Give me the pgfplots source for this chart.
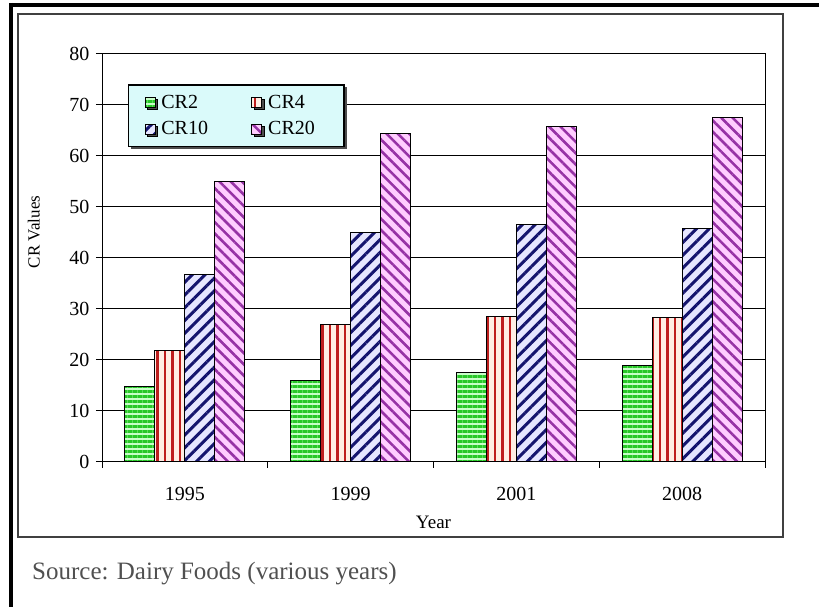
\documentclass[border=0pt]{standalone}
\usepackage{fontspec}
\setmainfont{Liberation Serif}
\usepackage{pgfplots}
\pgfplotsset{compat=1.18}
\usetikzlibrary{patterns.meta,shadows}
\definecolor{gS}{RGB}{40,200,40}
\definecolor{gB}{RGB}{200,255,200}
\definecolor{rS}{RGB}{190,30,30}
\definecolor{rB}{RGB}{255,238,228}
\definecolor{bS}{RGB}{20,20,110}
\definecolor{bB}{RGB}{230,230,255}
\definecolor{mS}{RGB}{150,50,165}
\definecolor{mB}{RGB}{255,205,255}
\definecolor{legbg}{RGB}{218,250,250}
\definecolor{srcgray}{RGB}{80,80,80}
\begin{document}
\begin{tikzpicture}
\path[use as bounding box] (0pt,0pt) rectangle (819pt,607pt);
% outer borders
\draw[black, line width=4pt] (9pt,602pt) -- (819pt,602pt);
\draw[black, line width=4pt] (11pt,604pt) -- (11pt,0pt);
\draw[black!75, line width=1.5pt] (18pt,593pt) rectangle (783pt,70pt);
\begin{axis}[
  at={(102pt,145pt)}, anchor=south west,
  scale only axis, width=663pt, height=408pt,
  ybar=0pt, bar width=30pt,
  xmin=-0.5, xmax=3.5, ymin=0, ymax=80,
  ytick={0,10,...,80},
  xtick={-0.5,0.5,1.5,2.5,3.5}, xticklabels={},
  extra x ticks={0,1,2,3},
  extra x tick labels={1995,1999,2001,2008},
  extra x tick style={major tick length=0pt, xticklabel style={yshift=-22pt}},
  tick pos=left, tick align=outside, major tick length=6pt,
  ymajorgrids, grid style={black, line width=1pt},
  axis line style={black, line width=1pt},
  tick style={black, line width=1pt},
  /pgf/number format/assume math mode=true,
  ticklabel style={font=\fontsize{20}{24}\selectfont},
  yticklabel style={xshift=-3pt},
  every axis y label/.style={at={(axis description cs:-0.1026,0.564)}, rotate=90, anchor=center, font=\fontsize{17}{20}\selectfont},
  every axis x label/.style={at={(axis description cs:0.5,-0.147)}, anchor=center, font=\fontsize{19}{22}\selectfont},
  ylabel={CR Values}, xlabel={Year},
  legend columns=2,
  legend cell align=left,
  legend style={at={(0.039,0.926)}, anchor=north west, fill=legbg, draw=black, line width=1.5pt,
    drop shadow={shadow xshift=2.5pt, shadow yshift=-2.5pt, fill=black!70, opacity=1},
    font=\fontsize{20}{24}\selectfont, inner xsep=16pt, inner ysep=8pt,
    /tikz/every even column/.append style={column sep=30pt}, row sep=8pt},
  legimg/.style={legend image code/.code={\draw[##1, line width=0.8pt] (0pt,-5pt) rectangle (10pt,5pt);}},
]
\addplot[legimg, draw=black, line width=1pt, preaction={fill=gB}, pattern={Lines[angle=0,distance=5pt,line width=3pt]}, pattern color=gS]
  coordinates {(0,14.8) (1,16.0) (2,17.5) (3,19.0)};
\addplot[legimg, draw=black, line width=1pt, preaction={fill=rB}, pattern={Lines[angle=90,distance=7.5pt,line width=2.5pt]}, pattern color=rS]
  coordinates {(0,21.9) (1,27.0) (2,28.5) (3,28.4)};
\addplot[legimg, draw=black, line width=1pt, preaction={fill=bB}, pattern={Lines[angle=45,distance=9pt,line width=3pt]}, pattern color=bS]
  coordinates {(0,36.8) (1,45.0) (2,46.6) (3,45.7)};
\addplot[legimg, draw=black, line width=1pt, preaction={fill=mB}, pattern={Lines[angle=-45,distance=8pt,line width=2.6pt]}, pattern color=mS]
  coordinates {(0,55.0) (1,64.4) (2,65.8) (3,67.5)};
\legend{\hspace{4pt}\makebox[58pt][l]{CR2},\hspace{4pt}\makebox[58pt][l]{CR4},\hspace{4pt}\makebox[58pt][l]{CR10},\hspace{4pt}\makebox[58pt][l]{CR20}}
\end{axis}
\node[anchor=west, text=srcgray, font=\fontsize{25}{30}\selectfont, inner sep=0pt] at (32pt,33pt) {Source: Dairy Foods (various years)};
\end{tikzpicture}
\end{document}
